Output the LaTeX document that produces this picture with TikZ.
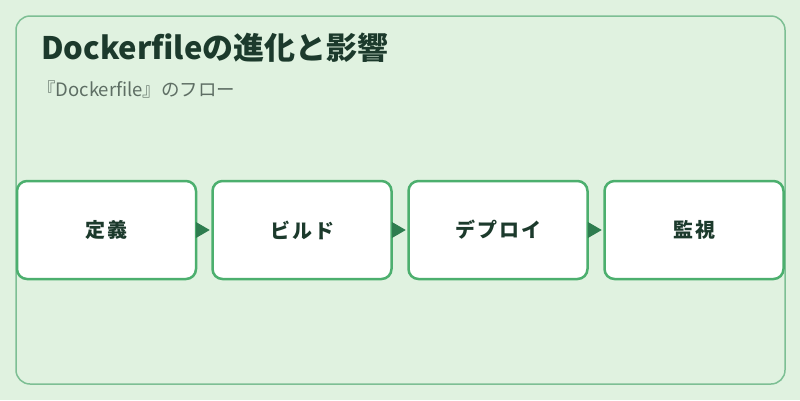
\documentclass[tikz,border=0pt]{standalone}
\usepackage{fontspec}
\setmainfont{Noto Sans CJK JP}
\usetikzlibrary{arrows.meta}
\definecolor{bgc}{HTML}{E0F2E0}
\definecolor{framec}{HTML}{7DBF94}
\definecolor{boxc}{HTML}{4CAF6E}
\definecolor{arrc}{HTML}{2E7D4F}
\definecolor{titlec}{HTML}{1C3A2C}
\definecolor{subc}{HTML}{5E6E64}
\begin{document}
\begin{tikzpicture}[x=1pt,y=-1pt,
  stepbox/.style={draw=boxc,line width=2.5pt,fill=white,rounded corners=10pt,
    minimum width=179pt,minimum height=98pt,inner sep=0pt,
    font=\fontsize{20pt}{24pt}\selectfont\bfseries,text=titlec},
  flow/.style={draw=arrc,line width=1pt,-{Triangle[length=14pt,width=16pt]},arrc,shorten >=1.5pt}]
\useasboundingbox (0,0) rectangle (800,400);
\fill[bgc] (0,0) rectangle (800,400);
\draw[framec,line width=1.5pt,rounded corners=14pt] (16,16) rectangle (785,384);
\node[anchor=base west,inner sep=0pt,text=titlec,font=\fontsize{31pt}{34pt}\selectfont\bfseries] (title) at (41,59) {Dockerfileの進化と影響};
\node[anchor=base west,inner sep=0pt,text=subc,font=\fontsize{18.5pt}{22pt}\selectfont] (sub) at (37,96) {『Dockerfile』のフロー};
\node[stepbox] (s1) at (106.5,230) {定\hspace{2pt}義};
\node[stepbox] (s2) at (302,230) {ビ\hspace{2pt}ル\hspace{2pt}ド};
\node[stepbox] (s3) at (498,230) {デ\hspace{2pt}プ\hspace{2pt}ロ\hspace{2pt}イ};
\node[stepbox] (s4) at (694,230) {監\hspace{2pt}視};
\draw[flow] (s1) -- (s2);
\draw[flow] (s2) -- (s3);
\draw[flow] (s3) -- (s4);
\end{tikzpicture}
\end{document}
